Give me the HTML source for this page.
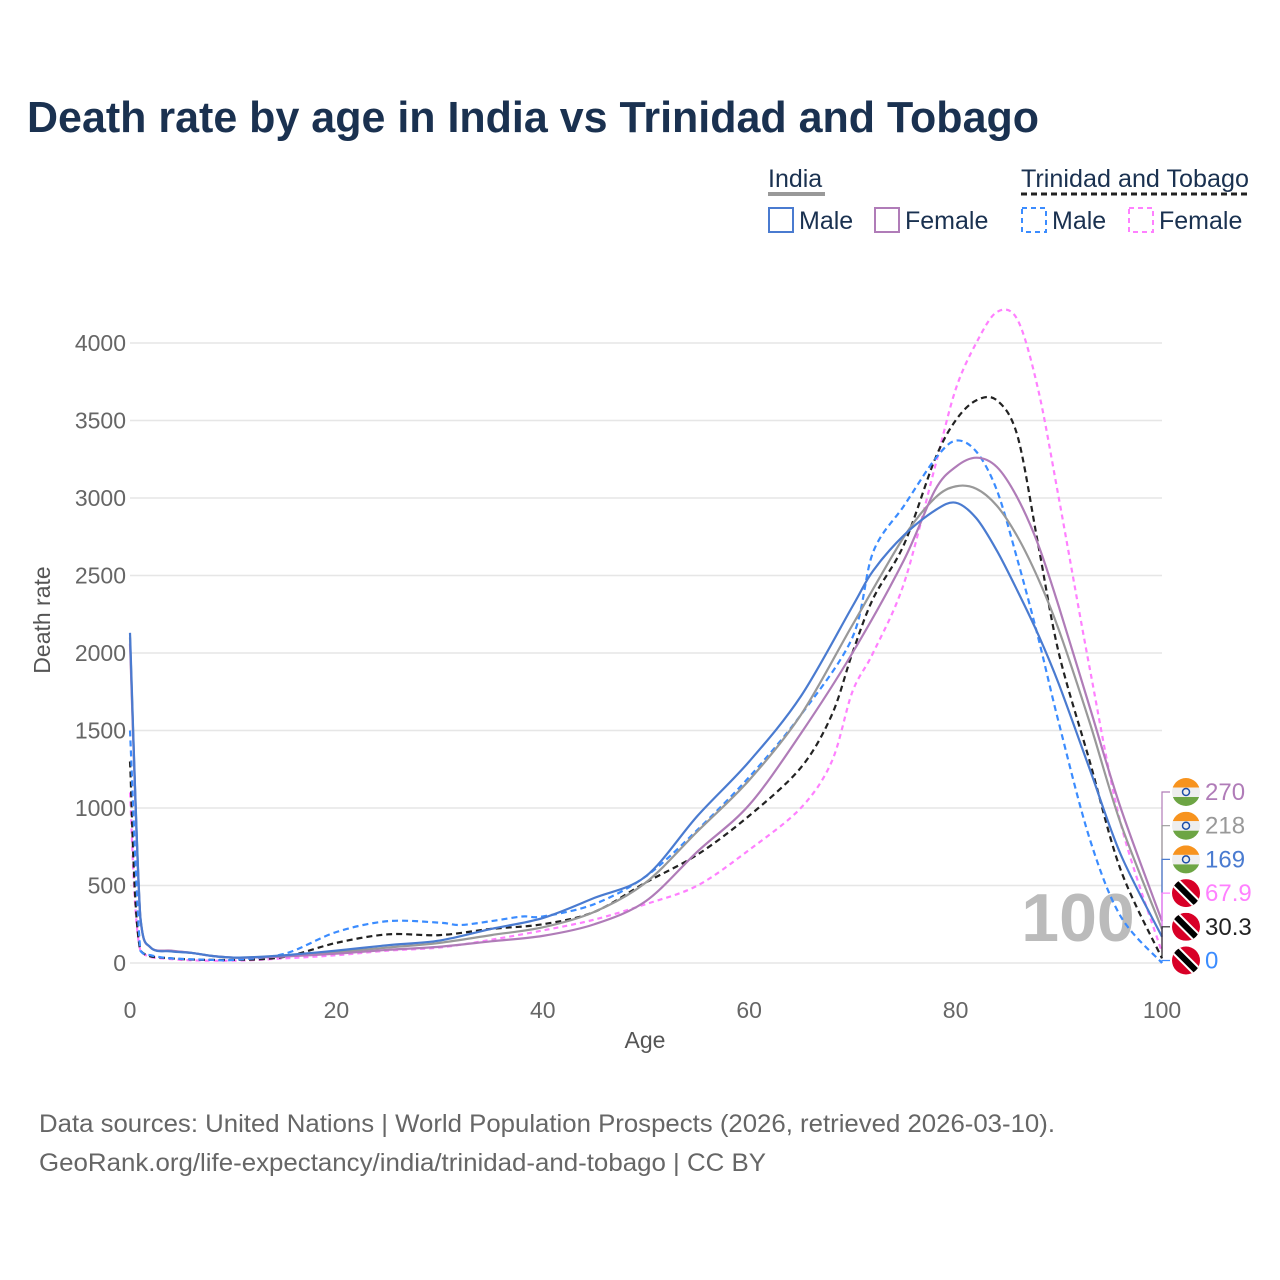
<!DOCTYPE html>
<html><head><meta charset="utf-8">
<style>
body{margin:0;background:#fff;font-family:"Liberation Sans",sans-serif}
svg{display:block}
</style></head>
<body>
<svg id="chart" width="1280" height="1280" viewBox="0 0 1280 1280">
<text x="27" y="132" font-size="44" font-weight="bold" fill="#1a3150" textLength="1012" lengthAdjust="spacingAndGlyphs">Death rate by age in India vs Trinidad and Tobago</text>
<g font-size="25" fill="#1a3150">
<text x="768" y="187">India</text>
<line x1="768" x2="825" y1="194" y2="194" stroke="#999" stroke-width="4"/>
<text x="1021" y="187" textLength="228" lengthAdjust="spacingAndGlyphs">Trinidad and Tobago</text>
<line x1="1021" x2="1249" y1="194" y2="194" stroke="#222" stroke-width="3" stroke-dasharray="6,4"/>
<rect x="769" y="208" width="24" height="24" fill="none" stroke="#4a7bd0" stroke-width="2"/>
<text x="799" y="229">Male</text>
<rect x="875" y="208" width="24" height="24" fill="none" stroke="#b07cb8" stroke-width="2"/>
<text x="905" y="229">Female</text>
<rect x="1022" y="208" width="24" height="24" fill="none" stroke="#3b8cff" stroke-width="2" stroke-dasharray="5,4"/>
<text x="1052" y="229">Male</text>
<rect x="1129" y="208" width="24" height="24" fill="none" stroke="#ff80ff" stroke-width="2" stroke-dasharray="5,4"/>
<text x="1159" y="229">Female</text>
</g>
<g id="grid"></g>
<text x="1078" y="941" font-size="68" font-weight="bold" fill="#bbb" text-anchor="middle">100</text>
<g id="lines"></g>
<g id="labels"></g>
<text x="645" y="1048" font-size="23" fill="#555" text-anchor="middle">Age</text>
<text transform="translate(50,620) rotate(-90)" font-size="23" fill="#555" text-anchor="middle">Death rate</text>
<text x="39" y="1132" font-size="25" fill="#666" textLength="1016" lengthAdjust="spacingAndGlyphs">Data sources: United Nations | World Population Prospects (2026, retrieved 2026-03-10).</text>
<text x="39" y="1171" font-size="25" fill="#666" textLength="727" lengthAdjust="spacingAndGlyphs">GeoRank.org/life-expectancy/india/trinidad-and-tobago | CC BY</text>
</svg>
<script>
const xTicks=[0,20,40,60,80,100];
const yTicks=[0,500,1000,1500,2000,2500,3000,3500,4000];
const indiaMaleAges=[0,1,2,4,6,8,10,12,15,20,25,30,35,40,45,50,55,60,65,70,72,75,78,80,82,84,86,88,90,93,96,100];
const indiaMaleVals=[2130,300,100,75,65,45,35,38,50,80,115,145,220,290,420,560,950,1300,1720,2300,2530,2760,2920,2970,2870,2660,2400,2120,1800,1250,700,169];
const indiaTotalAges=[0,1,2,4,6,8,10,12,15,20,25,30,35,40,45,50,55,60,65,70,75,78,80,82,84,86,88,90,93,96,100];
const indiaTotalVals=[2100,295,100,78,65,45,35,37,45,70,100,130,180,230,330,520,850,1180,1600,2180,2750,3000,3075,3060,2950,2750,2480,2150,1550,900,218];
const indiaFemaleAges=[0,1,2,4,6,8,10,12,15,20,25,30,35,40,45,50,55,60,65,70,75,78,80,82,84,86,88,90,93,96,100];
const indiaFemaleVals=[2060,290,100,80,65,45,35,36,42,60,85,105,140,175,250,400,720,1020,1480,2000,2600,3050,3200,3260,3200,3000,2700,2300,1650,1000,270];
const ttMaleAges=[0,1,2,4,8,10,15,20,25,30,32,35,38,40,45,50,55,60,65,70,72,75,78,80,82,84,86,88,90,93,96,100];
const ttMaleVals=[1500,80,50,30,20,20,60,200,270,260,245,270,300,300,380,560,860,1200,1600,2100,2650,2950,3250,3370,3300,3050,2600,2100,1550,800,300,0];
const ttTotalAges=[0,1,4,10,15,20,25,30,35,40,45,50,55,60,65,68,70,72,75,78,80,82,84,86,88,90,93,96,100];
const ttTotalVals=[1300,80,30,20,40,130,185,180,220,250,330,520,700,950,1260,1600,2000,2350,2700,3250,3500,3630,3630,3400,2700,2000,1300,600,30];
const ttFemaleAges=[0,1,4,10,15,20,25,30,35,40,45,50,55,60,65,68,70,72,75,78,80,82,84,86,88,90,93,96,100];
const ttFemaleVals=[1100,80,25,15,30,50,80,100,150,210,280,380,500,730,1000,1300,1750,2000,2450,3200,3700,4000,4200,4150,3700,3000,1900,900,68];
const endLabels=["270","218","169","67.9","30.3","0"];

const NS="http://www.w3.org/2000/svg";
const X=a=>130+a*10.32;
const Y=v=>963-v*0.155;
function mk(tag,attrs,parent){const e=document.createElementNS(NS,tag);for(const k in attrs)e.setAttribute(k,attrs[k]);parent.appendChild(e);return e;}
const grid=document.getElementById('grid');
yTicks.forEach(t=>{
 const l=mk('line',{x1:130,x2:1162,y1:Y(t),y2:Y(t),stroke:'#e6e6e6','stroke-width':1.5},grid);
 
 
 const tx=mk('text',{x:126,y:Y(t)+8,'font-size':23,fill:'#666','text-anchor':'end'},grid);
 tx.textContent=t;
 
 
});
xTicks.forEach(t=>{
 const tx=mk('text',{x:X(t),y:1018,'font-size':23,fill:'#666','text-anchor':'middle'},grid);
 tx.textContent=t;
 
 
});
function path(ages,vals){
 const p=ages.map((a,i)=>[X(a),Y(vals[i])]);
 let d=`M${p[0][0]},${p[0][1]}`;
 for(let i=0;i<p.length-1;i++){
  const p0=p[i-1]||p[i],p1=p[i],p2=p[i+1],p3=p[i+2]||p2;
  const t=0.16;
  let c1y=p1[1]+(p2[1]-p0[1])*t, c2y=p2[1]-(p3[1]-p1[1])*t;
  const lo=Math.min(p1[1],p2[1]),hi=Math.max(p1[1],p2[1]);
  if(i===0||i===1){c1y=Math.min(Math.max(c1y,lo),hi);c2y=Math.min(Math.max(c2y,lo),hi);}
  d+=` C${p1[0]+(p2[0]-p0[0])*t},${c1y} ${p2[0]-(p3[0]-p1[0])*t},${c2y} ${p2[0]},${p2[1]}`;
 }
 return d;
}
const lines=document.getElementById('lines');
const series=[
 [ttFemaleAges,ttFemaleVals,'#ff80ff','5,4','tt-female-line'],
 [ttTotalAges,ttTotalVals,'#222','6,4','tt-total-line'],
 [ttMaleAges,ttMaleVals,'#3b8cff','6,4','tt-male-line'],
 [indiaTotalAges,indiaTotalVals,'#999','','india-total-line'],
 [indiaFemaleAges,indiaFemaleVals,'#b07cb8','','india-female-line'],
 [indiaMaleAges,indiaMaleVals,'#4a7bd0','','india-male-line']
];
series.forEach(s=>{
 const e=mk('path',{d:path(s[0],s[1]),fill:'none',stroke:s[2],'stroke-width':2.2,'stroke-dasharray':s[3]},lines);
 
 
});
const lab=document.getElementById('labels');
const labCols=['#b07cb8','#999','#4a7bd0','#ff80ff','#222','#3b8cff'];
const ends=[indiaFemaleVals[indiaFemaleVals.length-1],indiaTotalVals[indiaTotalVals.length-1],indiaMaleVals[indiaMaleVals.length-1],ttFemaleVals[ttFemaleVals.length-1],ttTotalVals[ttTotalVals.length-1],ttMaleVals[ttMaleVals.length-1]];
endLabels.forEach((t,i)=>{
 const ly=792+i*33.7;
 const conn=mk('path',{d:`M${X(100)},${Y(ends[i])} L1162,${ly} L1170,${ly}`,fill:'none',stroke:labCols[i],'stroke-width':1.2},lab);
 
 
 const g=mk('g',{},lab);
 
 
 const cx=1186,cy=ly;
 const cp=mk('clipPath',{id:'cf'+i},g);
 mk('circle',{cx:cx,cy:cy,r:14},cp);
 const gg=mk('g',{'clip-path':`url(#cf${i})`},g);
 if(i<3){
  mk('rect',{x:cx-14,y:cy-14,width:28,height:9.5,fill:'#f7931e'},gg);
  mk('rect',{x:cx-14,y:cy-4.5,width:28,height:9.5,fill:'#eee'},gg);
  mk('rect',{x:cx-14,y:cy+5,width:28,height:9.5,fill:'#6da544'},gg);
  mk('circle',{cx:cx,cy:cy,r:3.5,fill:'none',stroke:'#1d4ea8','stroke-width':1.5},gg);
 } else {
  mk('rect',{x:cx-14,y:cy-14,width:28,height:28,fill:'#d80027'},gg);
  mk('line',{x1:cx-14,y1:cy-14,x2:cx+14,y2:cy+14,stroke:'#fff','stroke-width':10},gg);
  mk('line',{x1:cx-14,y1:cy-14,x2:cx+14,y2:cy+14,stroke:'#000','stroke-width':6},gg);
 }
 const tx=mk('text',{x:1205,y:ly+8,'font-size':24,fill:labCols[i]},lab);
 tx.textContent=t;
 
 
});
</script>
</body></html>
